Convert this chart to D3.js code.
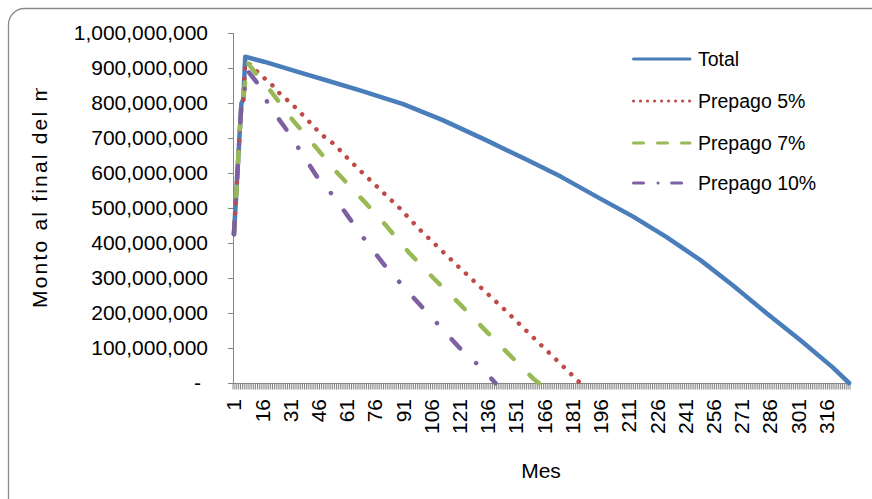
<!DOCTYPE html>
<html lang="es">
<head>
  <meta charset="UTF-8" />
  <title>Monto al final del mes</title>
  <script src="https://d3js.org/d3.v7.min.js"></script>
  <style>
    body {
      margin: 0;
      background: #fff;
      font-family: 'Liberation Sans', Arial, sans-serif;
    }
    svg text {
      fill: #000;
    }
  </style>
</head>
<body>
<svg id="chart" width="872" height="499"></svg>

<script>
  // months on the category axis, labels every 15
  const nMonths = 328;
  const categories = d3.range(1, nMonths + 1);
  const tickLabels = categories.filter(m => (m - 1) % 15 === 0);

  // values in millions
  const totalMonths = [1, 2, 3, 4, 5, 6, 7, 17, 35, 50, 68, 91, 112, 135, 157, 175, 195, 213, 231, 249, 266, 284, 302, 319, 328];
  const totalValues = [425, 520, 615, 710, 800, 810, 932, 918, 889, 865, 836, 797, 751, 694, 637, 589, 529, 476, 417, 351, 280, 200, 123, 46, 0];

  const p5Months = [1, 2, 3, 4, 5, 6, 7, 10, 15, 19, 23, 26, 31, 35, 39, 46, 50, 55, 58, 62, 66, 70, 89, 100, 120, 144, 183, 185];
  const p5Values = [425, 520, 615, 710, 800, 810, 915, 909, 880, 863, 842, 823, 801, 780, 758, 718, 699, 680, 661, 639, 618, 597, 500, 437, 334, 214, 11, 0];

  const p7Months = [1, 2, 3, 4, 5, 6, 8, 12, 21, 32, 44, 56, 69, 82, 94, 107, 121, 134, 147, 160, 163];
  const p7Values = [425, 520, 615, 710, 800, 810, 917, 889, 831, 753, 677, 600, 526, 449, 373, 300, 226, 154, 83, 13, 0];

  const p10Months = [1, 2, 3, 4, 5, 6, 8, 13, 20, 29, 37, 45, 55, 63, 72, 81, 91, 101, 111, 121, 132, 140];
  const p10Values = [425, 520, 615, 710, 800, 810, 894, 860, 790, 723, 657, 591, 527, 466, 399, 337, 276, 217, 159, 100, 46, 0];

  const seriesNames = ["Total", "Prepago 5%", "Prepago 7%", "Prepago 10%"];

  const series = [
    { name: seriesNames[0], months: totalMonths, values: totalValues, color: "#4A7EBB", dash: null, legendDash: null },
    { name: seriesNames[1], months: p5Months, values: p5Values, color: "#BE4B48", dash: "0.1,10.3", legendDash: "0.1,6.9" },
    { name: seriesNames[2], months: p7Months, values: p7Values, color: "#98B954", dash: "12.5,22.5", legendDash: "10,14" },
    { name: seriesNames[3], months: p10Months, values: p10Values, color: "#7D60A0", dash: "12.5,21.7,0.1,21.7", legendDash: "10,14.5,0.1,13.5" }
  ];

  const svg = d3.select("#chart");
  const axisColor = "#868686";
  const fontSize = 21;

  // chart frame
  svg.append("rect")
    .attr("x", 8.5)
    .attr("y", 8.5)
    .attr("width", 880)
    .attr("height", 520)
    .attr("rx", 16)
    .attr("fill", "#fff")
    .attr("stroke", "#8a8a8a")
    .attr("stroke-width", 1.3);

  const x = d3.scaleBand()
    .domain(categories)
    .range([233, 850])
    .padding(0);

  const y = d3.scaleLinear()
    .domain([0, 1000])
    .range([383, 33]);

  const xc = m => x(m) + x.bandwidth() / 2;

  // y axis
  const yAxis = svg.append("g");
  yAxis.append("line")
    .attr("x1", 233.5).attr("x2", 233.5)
    .attr("y1", y(1000)).attr("y2", y(0))
    .attr("stroke", axisColor);

  const yTicks = y.ticks(10);
  yAxis.selectAll("line.tick")
    .data(yTicks)
    .enter().append("line")
    .attr("class", "tick")
    .attr("x1", 228).attr("x2", 233.5)
    .attr("y1", d => Math.round(y(d)) + 0.5)
    .attr("y2", d => Math.round(y(d)) + 0.5)
    .attr("stroke", axisColor);

  yAxis.selectAll("text")
    .data(yTicks)
    .enter().append("text")
    .attr("x", d => d === 0 ? 201 : 208)
    .attr("y", d => y(d))
    .attr("dy", "0.35em")
    .attr("text-anchor", "end")
    .attr("font-size", fontSize)
    .text(d => d === 0 ? "-" : d3.format(",")(d * 1e6));

  // x axis, a tick between every month
  const xAxis = svg.append("g");
  xAxis.append("line")
    .attr("x1", 233).attr("x2", 850)
    .attr("y1", 383.5).attr("y2", 383.5)
    .attr("stroke", axisColor);

  xAxis.selectAll("line.tick")
    .data(categories.concat([nMonths + 1]))
    .enter().append("line")
    .attr("class", "tick")
    .attr("x1", d => d > nMonths ? 850 : x(d))
    .attr("x2", d => d > nMonths ? 850 : x(d))
    .attr("y1", 383)
    .attr("y2", 389.5)
    .attr("stroke", axisColor);

  xAxis.selectAll("text")
    .data(tickLabels)
    .enter().append("text")
    .attr("transform", d => `translate(${xc(d)},399) rotate(-90)`)
    .attr("dy", "0.35em")
    .attr("text-anchor", "end")
    .attr("font-size", fontSize)
    .text(d => d);

  // axis titles
  svg.append("text")
    .attr("x", 541)
    .attr("y", 478)
    .attr("text-anchor", "middle")
    .attr("font-size", fontSize)
    .text("Mes");

  svg.append("clipPath")
    .attr("id", "ylab-clip")
    .append("rect")
    .attr("x", 0).attr("y", 88)
    .attr("width", 80).attr("height", 300);

  svg.append("g")
    .attr("clip-path", "url(#ylab-clip)")
    .append("text")
    .attr("transform", "translate(47,308) rotate(-90)")
    .attr("font-size", fontSize)
    .attr("letter-spacing", 2.2)
    .text("Monto al final del mes");

  // lines
  const line = d3.line()
    .x(d => xc(d[0]))
    .y(d => y(d[1]));

  svg.append("g")
    .selectAll("path")
    .data(series)
    .enter().append("path")
    .attr("d", s => line(d3.zip(s.months, s.values)))
    .attr("fill", "none")
    .attr("stroke", s => s.color)
    .attr("stroke-width", 4.5)
    .attr("stroke-linecap", "round")
    .attr("stroke-linejoin", "round")
    .attr("stroke-dasharray", s => s.dash);

  // legend
  const legend = svg.append("g")
    .selectAll("g")
    .data(series)
    .enter().append("g")
    .attr("transform", (s, i) => `translate(0,${[59, 101, 143, 183][i]})`);

  legend.append("line")
    .attr("x1", 633.5).attr("x2", 690)
    .attr("y1", 0).attr("y2", 0)
    .attr("stroke", s => s.color)
    .attr("stroke-width", 3)
    .attr("stroke-linecap", "round")
    .attr("stroke-dasharray", s => s.legendDash);

  legend.append("text")
    .attr("x", 698)
    .attr("y", 0)
    .attr("dy", "0.35em")
    .attr("font-size", 19.5)
    .text(s => s.name);
</script>
</body>
</html>
